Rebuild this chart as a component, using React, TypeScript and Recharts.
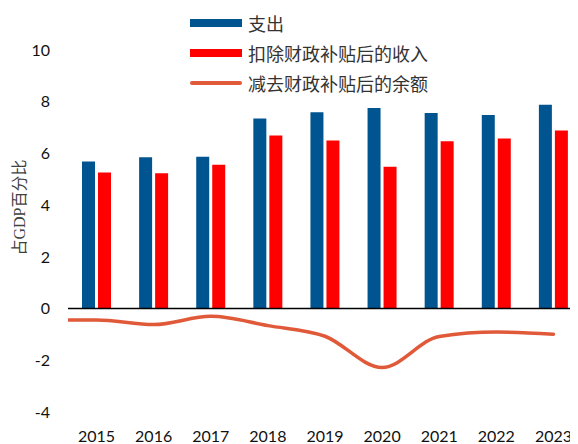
import React from "react";
import {
  ComposedChart,
  Bar,
  Line,
  XAxis,
  YAxis,
  ReferenceLine,
  Legend,
  Label,
} from "recharts";

// Years shown on the category axis
const YEARS = [2015, 2016, 2017, 2018, 2019, 2020, 2021, 2022, 2023];
// 支出 (% of GDP)
const SPENDING = [5.69, 5.85, 5.87, 7.35, 7.59, 7.76, 7.56, 7.49, 7.88];
// 扣除财政补贴后的收入 (% of GDP)
const REVENUE = [5.26, 5.23, 5.56, 6.69, 6.5, 5.48, 6.47, 6.58, 6.89];
// 减去财政补贴后的余额 — the line also has a 2014 point, cut at the plot edge
const BALANCE_YEARS = [2014, 2015, 2016, 2017, 2018, 2019, 2020, 2021, 2022, 2023];
const BALANCE = [-0.44, -0.44, -0.62, -0.3, -0.66, -1.07, -2.28, -1.08, -0.91, -0.99];
const Y_TICKS = [-4, -2, 0, 2, 4, 6, 8, 10];

const SERIES_NAMES = ["支出", "扣除财政补贴后的收入", "减去财政补贴后的余额"];

const BLUE = "#005591";
const RED = "#FF0000";
const ORANGE = "#E05A3A";

const data = BALANCE_YEARS.map((year, i) => {
  const idx = YEARS.indexOf(year);
  return {
    year,
    spending: idx >= 0 ? SPENDING[idx] : null,
    revenue: idx >= 0 ? REVENUE[idx] : null,
    balance: BALANCE[i],
  };
});

const NUM_FONT = "Lato, 'Liberation Sans', sans-serif";
const CJK_FONT = "'Noto Sans CJK SC', sans-serif";

const LegendContent = () => {
  const items = [
    { name: SERIES_NAMES[0], color: BLUE, type: "bar" },
    { name: SERIES_NAMES[1], color: RED, type: "bar" },
    { name: SERIES_NAMES[2], color: ORANGE, type: "line" },
  ];
  return (
    <div style={{ display: "flex", flexDirection: "column" }}>
      {items.map((it) => (
        <div
          key={it.name}
          style={{ height: 30, display: "flex", alignItems: "center" }}
        >
          <div
            style={{
              width: 52,
              height: it.type === "bar" ? 8 : 4,
              background: it.color,
              borderRadius: it.type === "bar" ? 0 : 2,
              marginRight: 6,
            }}
          />
          <span
            style={{
              fontFamily: CJK_FONT,
              fontSize: 18,
              color: "#333333",
              lineHeight: "30px",
              whiteSpace: "nowrap",
            }}
          >
            {it.name}
          </span>
        </div>
      ))}
    </div>
  );
};

const YLabel = (props: any) => {
  const vb = props.viewBox || { x: 0, y: 0, width: 0, height: 0 };
  const cx = vb.x + 11.5;
  const cy = vb.y + vb.height / 2 - 23.5;
  return (
    <text
      x={cx}
      y={cy}
      transform={`rotate(-90, ${cx}, ${cy})`}
      textAnchor="middle"
      dominantBaseline="central"
      fontSize={16}
      fill="#404040"
      fontFamily="'Liberation Serif', 'Noto Sans CJK SC', serif"
    >
      占GDP百分比
    </text>
  );
};

export default function App() {
  return (
    <div style={{ width: 570, height: 436, overflow: "hidden" }}>
      <ComposedChart
        width={580}
        height={436}
        data={data}
        margin={{ top: 42, right: 6, bottom: 0, left: 0 }}
        barGap={3}
      >
        <XAxis
          dataKey="year"
          type="number"
          domain={[2014.5, 2023.5]}
          ticks={YEARS}
          allowDataOverflow
          axisLine={false}
          tickLine={false}
          tickMargin={13}
          height={32}
          interval={0}
          tick={{ fontSize: 16, fill: "#111111", fontFamily: NUM_FONT }}
        />
        <YAxis
          domain={[-4, 10]}
          ticks={Y_TICKS}
          axisLine={false}
          tickLine={false}
          tickMargin={12}
          width={60}
          allowDataOverflow
          tick={{ fontSize: 16, fill: "#111111", fontFamily: NUM_FONT }}
        >
          <Label content={<YLabel />} />
        </YAxis>
        <Legend
          layout="vertical"
          align="center"
          verticalAlign="middle"
          wrapperStyle={{ top: 0, left: 182, width: 300 }}
          content={<LegendContent />}
        />
        <Bar
          dataKey="spending"
          name={SERIES_NAMES[0]}
          fill={BLUE}
          barSize={13}
          isAnimationActive={false}
        />
        <Bar
          dataKey="revenue"
          name={SERIES_NAMES[1]}
          fill={RED}
          barSize={13}
          isAnimationActive={false}
        />
        <ReferenceLine y={0} stroke="#000000" strokeWidth={1.5} />
        <Line
          dataKey="balance"
          name={SERIES_NAMES[2]}
          type="monotone"
          stroke={ORANGE}
          strokeWidth={3.5}
          dot={false}
          activeDot={false}
          strokeLinecap="round"
          isAnimationActive={false}
        />
      </ComposedChart>
    </div>
  );
}
